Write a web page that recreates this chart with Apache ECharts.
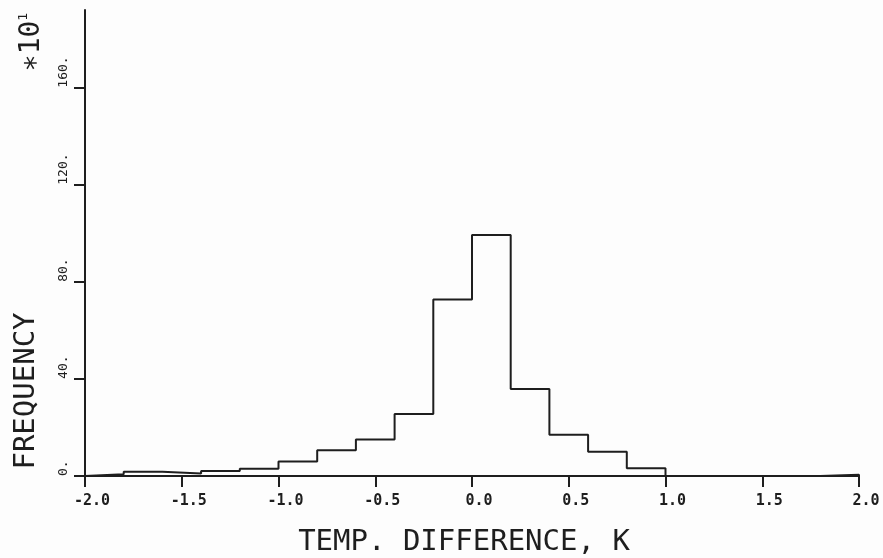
<!DOCTYPE html>
<html>
<head>
<meta charset="utf-8">
<script src="https://cdn.jsdelivr.net/npm/echarts@6/dist/echarts.min.js"></script>
<style>
html,body{margin:0;padding:0;background:#fdfdfd;}
#chart{width:883px;height:558px;}
</style>
</head>
<body>
<div id="chart"></div>
<script>
// Histogram bin left edges (K) and frequencies (units of *10^1)
const binLeftEdges = [-2.0,-1.8,-1.6,-1.4,-1.2,-1.0,-0.8,-0.6,-0.4,-0.2,0.0,0.2,0.4,0.6,0.8,1.0,1.2,1.4,1.6,1.8];
const binWidth = 0.2;
const frequencies = [0.7,1.8,1.0,2.1,3.0,6.0,10.6,15.0,25.5,72.7,99.3,35.8,17.0,10.0,3.2,0,0,0,0,0.5];
const yTickValues = [0,40,80,120,160];
const yTickLabels = ['0.','40.','80.','120.','160.'];
const xTickValues = [-2.0,-1.5,-1.0,-0.5,0.0,0.5,1.0,1.5,2.0];
const xAxisTitle = 'TEMP. DIFFERENCE, K';
const yAxisTitle = 'FREQUENCY';

// Build step outline points
const pts = [[binLeftEdges[0], 0]];
for (let i = 0; i < binLeftEdges.length; i++) pts.push([binLeftEdges[i], frequencies[i]]);
const lastEdge = binLeftEdges[binLeftEdges.length-1] + binWidth;
pts.push([lastEdge, frequencies[frequencies.length-1]]);
pts.push([lastEdge, 0]);

const ink = '#1e1e1e';
const mono = '"DejaVu Sans Mono", "Liberation Mono", monospace';

const chart = echarts.init(document.getElementById('chart'));
chart.setOption({
  backgroundColor: '#fdfdfd',
  animation: false,
  grid: {left: 85, right: 24, top: 10, bottom: 82, containLabel: false, outerBoundsMode: 'none'},
  xAxis: {
    type: 'value', min: -2, max: 2, interval: 0.5,
    axisLine: {show: true, onZero: false, lineStyle: {color: ink, width: 2}},
    axisTick: {show: true, inside: false, length: 11, lineStyle: {color: ink, width: 2}, customValues: xTickValues},
    axisLabel: {show: true, margin: 18, color: ink, fontFamily: mono, fontSize: 15, fontWeight: 'bold',
      customValues: xTickValues, padding: [0, 0, 0, 14],
      formatter: v => (Math.abs(v) < 1e-9 ? 0 : v).toFixed(1)},
    splitLine: {show: false},
    name: xAxisTitle, nameLocation: 'middle', nameGap: 52,
    nameTextStyle: {color: ink, fontFamily: mono, fontSize: 29, fontWeight: 'normal', padding: [0, 16, 0, 0]}
  },
  yAxis: {
    type: 'value', min: 0, max: 192,
    axisLine: {show: true, onZero: false, lineStyle: {color: ink, width: 2}},
    axisTick: {show: true, inside: false, length: 11, lineStyle: {color: ink, width: 2}, customValues: yTickValues},
    axisLabel: {show: true, margin: 15, rotate: 90, align: 'left', verticalAlign: 'bottom',
      color: ink, fontFamily: mono, fontSize: 13,
      customValues: yTickValues,
      formatter: v => yTickLabels[yTickValues.indexOf(v)] || ''},
    splitLine: {show: false}
  },
  graphic: [
    {type: 'text', x: 26, y: 391, rotation: Math.PI/2,
     style: {text: yAxisTitle, fill: ink, font: '29px ' + mono, textAlign: 'center', textVerticalAlign: 'middle'}},
    {type: 'text', x: 32, y: 42, rotation: Math.PI/2,
     style: {text: '∗10{s|1}', fill: ink, fontFamily: mono, fontSize: 28, textAlign: 'center', textVerticalAlign: 'middle',
       rich: {s: {fontFamily: mono, fontSize: 13, verticalAlign: 'top', padding: [0,0,16,0], fill: ink}}}}
  ],
  series: [{
    type: 'line', step: 'end', data: pts, symbol: 'none',
    lineStyle: {color: ink, width: 2}, z: 3
  }]
});
</script>
</body>
</html>
